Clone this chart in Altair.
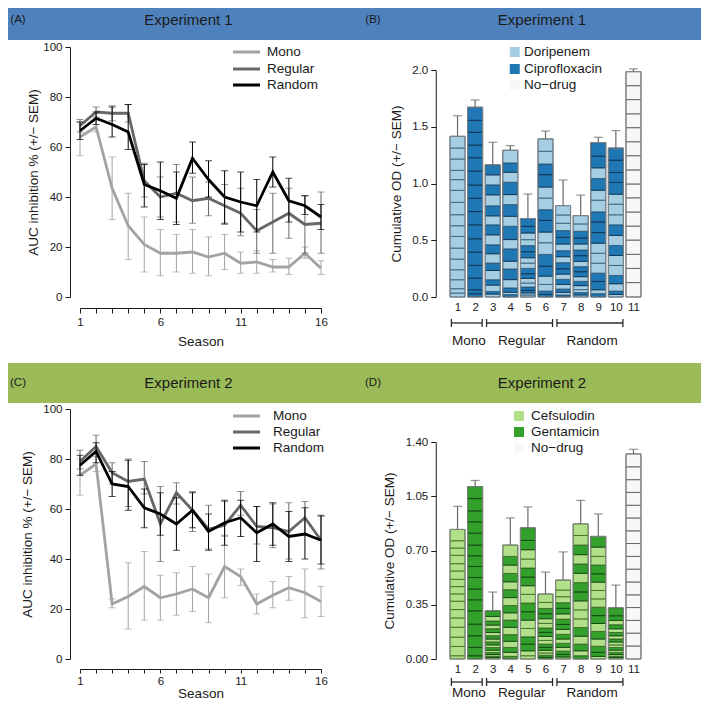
import altair as alt
import pandas as pd

FONT = "Liberation Sans"
INK = "#1a1a1a"

# ---------------- shared categories ----------------
seasons = list(range(1, 17))
series_names = ["Mono", "Regular", "Random"]
series_colors = ["#a3a3a3", "#676767", "#000000"]
bar_ids = list(range(1, 12))
group_names = ["Mono", "Regular", "Random"]
group_first = [1, 3, 7]
group_last = [2, 6, 10]

# ---------------- Experiment 1 : AUC inhibition (%) ----------------
e1_mono_mean = [64, 68, 43.5, 28.5, 21, 17.5, 17.5, 18, 16, 17.5, 13.5, 14, 12, 12, 17.5, 11.5]
e1_mono_lo = [56.5, 66, 31, 15, 10, 8.5, 10, 9.5, 8.5, 11, 9.5, 9.5, 10, 9, 15.5, 9]
e1_mono_hi = [70, 70.5, 56, 41.5, 32, 27, 25, 27, 24, 25, 18, 18.5, 15, 15.5, 20, 14.5]
e1_reg_mean = [68.5, 74, 73.5, 73.5, 46.5, 40, 41.5, 38.5, 39.5, 36.5, 33.5, 26.5, 30, 33.5, 29, 29.5]
e1_reg_lo = [66, 72, 70.5, 70, 40, 32, 30, 29.5, 32.5, 29, 24.5, 17.5, 17.5, 23.5, 17.5, 17.5]
e1_reg_hi = [71, 76, 76.5, 77, 53.5, 48, 53, 48, 46, 45, 43.5, 35, 41.5, 43.5, 40.5, 42]
e1_rnd_mean = [66.5, 71.5, 69, 66, 45, 42.5, 39.5, 55.5, 47, 40, 38, 36.5, 50, 38.5, 36.5, 32]
e1_rnd_lo = [63, 69, 64, 59, 36, 31, 29, 49.5, 40, 29.5, 26, 26, 44, 30, 33, 27]
e1_rnd_hi = [70, 74, 76, 77, 53, 54, 50, 62, 54.5, 50.5, 50, 47, 56, 47.5, 40.5, 37]

# ---------------- Experiment 2 : AUC inhibition (%) ----------------
e2_mono_mean = [73.5, 78, 22, 25, 29, 24.5, 26, 28, 24.5, 37, 33, 22, 25.5, 28.5, 26.5, 23]
e2_mono_lo = [65.5, 75, 20.5, 12, 15.5, 15.5, 17.5, 19, 14.5, 24.5, 29.5, 18, 20.5, 23.5, 16.5, 17]
e2_mono_hi = [80, 81, 24, 38.5, 43, 33.5, 34.5, 37, 34, 49, 36, 26, 31, 33, 36, 29]
e2_reg_mean = [79, 85, 74.5, 71, 72, 54, 66.5, 59.5, 52, 53.5, 61.5, 53, 52.5, 51, 56.5, 47.5]
e2_reg_lo = [76, 82, 70, 61, 66, 39, 62, 51, 44, 49.5, 57.5, 46, 44.5, 40, 50, 36]
e2_reg_hi = [83.5, 89.5, 78.5, 80, 79, 69, 70.5, 67, 61.5, 63, 67, 61, 62, 62.5, 63, 57]
e2_rnd_mean = [77.5, 83, 70, 69, 60.5, 58, 54, 59.5, 51, 54.5, 56.5, 50.5, 54, 49, 50, 47.5]
e2_rnd_lo = [73.5, 78.5, 65, 59.5, 52.5, 49.5, 43.5, 52.5, 43.5, 45.5, 49, 39, 45.5, 39, 40, 38]
e2_rnd_hi = [81.5, 86.5, 75, 79.5, 68, 66.5, 64.5, 66.5, 58, 63.5, 63.5, 61, 62.5, 59, 60.5, 57.5]

# ---------------- Experiment 1 : cumulative OD per season ----------------
e1_drugs = ["Doripenem", "Ciprofloxacin", "No\u2212drug"]
e1_fills = ["#a6cee3", "#1f78b4", "#f7f7f7"]
e1_edges = ["#35607f", "#0c3150", "#5e5e5e"]
# drug given each season (season 1 first): A = first drug, B = second drug, N = none
e1_schedule = [
    "AAAAAAAAAAAAAAAA", "BBBBBBBBBBBBBBBB",
    "ABABABABABABABAB", "BABABABABABABABA", "AABBAABBAABBAABB", "BBAABBAABBAABBAA",
    "BABABABBABABBAAA", "ABAABABBABBABBAA", "BABBAAABBBAABABB", "ABABAABABAAABBBB",
    "NNNNNNNNNNNNNNNN",
]
e1_od_bar1 = [0.035, 0.038, 0.079, 0.088, 0.094, 0.097, 0.103, 0.094, 0.097, 0.109, 0.106, 0.094, 0.082, 0.100, 0.097, 0.103]
e1_od_bar2 = [0.029, 0.035, 0.103, 0.112, 0.117, 0.117, 0.123, 0.117, 0.117, 0.117, 0.123, 0.117, 0.112, 0.112, 0.106, 0.115]
e1_od_bar3 = [0.026, 0.023, 0.056, 0.047, 0.082, 0.065, 0.082, 0.079, 0.088, 0.088, 0.079, 0.088, 0.097, 0.088, 0.088, 0.088]
e1_od_bar4 = [0.021, 0.021, 0.038, 0.073, 0.094, 0.068, 0.109, 0.082, 0.117, 0.088, 0.103, 0.088, 0.109, 0.088, 0.082, 0.112]
e1_od_bar5 = [0.018, 0.018, 0.023, 0.029, 0.035, 0.041, 0.041, 0.047, 0.047, 0.047, 0.053, 0.053, 0.053, 0.059, 0.059, 0.068]
e1_od_bar6 = [0.023, 0.029, 0.059, 0.073, 0.088, 0.103, 0.103, 0.094, 0.103, 0.094, 0.103, 0.097, 0.109, 0.094, 0.112, 0.109]
e1_od_bar7 = [0.018, 0.023, 0.029, 0.041, 0.044, 0.047, 0.047, 0.053, 0.053, 0.053, 0.059, 0.059, 0.059, 0.065, 0.073, 0.082]
e1_od_bar8 = [0.018, 0.021, 0.026, 0.035, 0.038, 0.041, 0.044, 0.044, 0.047, 0.050, 0.050, 0.053, 0.053, 0.059, 0.065, 0.073]
e1_od_bar9 = [0.029, 0.035, 0.073, 0.073, 0.088, 0.088, 0.088, 0.094, 0.094, 0.088, 0.103, 0.088, 0.103, 0.094, 0.103, 0.120]
e1_od_bar10 = [0.023, 0.029, 0.065, 0.073, 0.088, 0.088, 0.088, 0.088, 0.094, 0.088, 0.094, 0.088, 0.103, 0.088, 0.109, 0.106]
e1_od_bar11 = [0.127, 0.125, 0.124, 0.126, 0.123, 0.124, 0.125, 0.122, 0.124, 0.125, 0.123, 0.124, 0.122, 0.125, 0.123, 0.123]
e1_err_top = [1.597, 1.736, 1.363, 1.334, 0.907, 1.462, 1.031, 0.898, 1.407, 1.466, 2.010]

# ---------------- Experiment 2 : cumulative OD per season ----------------
e2_drugs = ["Cefsulodin", "Gentamicin", "No\u2212drug"]
e2_fills = ["#b2df8a", "#33a02c", "#f7f7f7"]
e2_edges = ["#3f6e25", "#0f4411", "#5e5e5e"]
e2_schedule = [
    "AAAAAAAAAAAAAAAA", "BBBBBBBBBBBBBBBB",
    "ABABABABABABABAB", "BABABABABABABABA", "AABBAABBAABBAABB", "BBAABBAABBAABBAA",
    "ABBABABABBABBAAA", "BABABAAABBABABAA", "ABBABABBAAABBAAB", "ABABABAABABABABB",
    "NNNNNNNNNNNNNNNN",
]
e2_od_bar1 = [0.021, 0.060, 0.060, 0.064, 0.060, 0.054, 0.054, 0.047, 0.047, 0.047, 0.054, 0.047, 0.054, 0.047, 0.047, 0.073]
e2_od_bar2 = [0.021, 0.054, 0.075, 0.075, 0.086, 0.071, 0.069, 0.075, 0.071, 0.069, 0.069, 0.077, 0.073, 0.071, 0.079, 0.077]
e2_od_bar3 = [0.009, 0.009, 0.011, 0.013, 0.015, 0.017, 0.017, 0.019, 0.019, 0.021, 0.021, 0.024, 0.024, 0.026, 0.030, 0.036]
e2_od_bar4 = [0.017, 0.026, 0.032, 0.039, 0.043, 0.047, 0.047, 0.047, 0.047, 0.051, 0.051, 0.051, 0.054, 0.054, 0.056, 0.073]
e2_od_bar5 = [0.021, 0.032, 0.043, 0.047, 0.054, 0.054, 0.054, 0.056, 0.056, 0.056, 0.056, 0.058, 0.058, 0.060, 0.060, 0.081]
e2_od_bar6 = [0.011, 0.013, 0.015, 0.017, 0.019, 0.021, 0.024, 0.026, 0.026, 0.028, 0.030, 0.030, 0.032, 0.034, 0.039, 0.054]
e2_od_bar7 = [0.013, 0.017, 0.021, 0.024, 0.026, 0.028, 0.030, 0.032, 0.032, 0.034, 0.034, 0.036, 0.036, 0.039, 0.043, 0.064]
e2_od_bar8 = [0.021, 0.032, 0.043, 0.051, 0.056, 0.056, 0.058, 0.058, 0.058, 0.060, 0.060, 0.060, 0.060, 0.062, 0.062, 0.075]
e2_od_bar9 = [0.017, 0.026, 0.039, 0.047, 0.049, 0.051, 0.051, 0.054, 0.054, 0.054, 0.054, 0.054, 0.056, 0.056, 0.060, 0.069]
e2_od_bar10 = [0.009, 0.009, 0.011, 0.013, 0.015, 0.017, 0.017, 0.019, 0.019, 0.021, 0.021, 0.024, 0.026, 0.028, 0.030, 0.051]
e2_od_bar11 = [0.084, 0.083, 0.082, 0.083, 0.082, 0.083, 0.083, 0.082, 0.083, 0.082, 0.083, 0.082, 0.083, 0.082, 0.083, 0.083]
e2_err_top = [0.985, 1.152, 0.432, 0.910, 0.981, 0.561, 0.691, 1.023, 0.936, 0.477, 1.353]

# ---------------- headers ----------------
hdr_letters = ["(A)", "(B)", "(C)", "(D)"]
hdr_titles = ["Experiment 1", "Experiment 1", "Experiment 2", "Experiment 2"]
band_blue = "#4f81bd"
band_green = "#9bbb59"

e1_segments = [e1_od_bar1, e1_od_bar2, e1_od_bar3, e1_od_bar4, e1_od_bar5, e1_od_bar6,
               e1_od_bar7, e1_od_bar8, e1_od_bar9, e1_od_bar10, e1_od_bar11]
e2_segments = [e2_od_bar1, e2_od_bar2, e2_od_bar3, e2_od_bar4, e2_od_bar5, e2_od_bar6,
               e2_od_bar7, e2_od_bar8, e2_od_bar9, e2_od_bar10, e2_od_bar11]


def line_frame(means, los, his):
    rows = []
    for name, m, l, h in zip(series_names, means, los, his):
        for s, a, b, c in zip(seasons, m, l, h):
            rows.append(dict(series=name, season=s, mean=a, lo=b, hi=c))
    return pd.DataFrame(rows)


def seg_frame(schedule, segments, drugs):
    code = {"A": drugs[0], "B": drugs[1], "N": drugs[2]}
    rows = []
    for b, (sched, segs) in zip(bar_ids, zip(schedule, segments)):
        for s, (c, v) in zip(seasons, zip(sched, segs)):
            rows.append(dict(bar=b, season=s, drug=code[c], od=v))
    return pd.DataFrame(rows)


def err_frame(segments, tops):
    return pd.DataFrame({"bar": bar_ids, "total": [round(sum(s), 3) for s in segments], "err": tops})


def header(letter, title, color, x0, x1, y0, y1, letter_x, title_x, text_y):
    hdf = pd.DataFrame({"letter": [letter], "title": [title]})
    base = alt.Chart(hdf)
    band = base.mark_rect(color=color).encode(
        x=alt.value(x0), x2=alt.value(x1), y=alt.value(y0), y2=alt.value(y1))
    lt = base.mark_text(fontSize=11.5, color=INK, align="center", baseline="middle").encode(
        x=alt.value(letter_x), y=alt.value(text_y), text="letter:N")
    tt = base.mark_text(fontSize=15, color=INK, align="center", baseline="middle").encode(
        x=alt.value(title_x), y=alt.value(text_y), text="title:N")
    return [band, lt, tt]


def line_panel(df, hdr, leg_y, leg_text_x, ytitle_x, x_offset, tick_size, label_pad, xtitle_y):
    xs = alt.Scale(domain=[1, 16], nice=False, zero=False)
    ys = alt.Scale(domain=[0, 100], nice=False, zero=True)
    color = alt.Color("series:N", scale=alt.Scale(domain=series_names, range=series_colors), legend=None)
    x_axis = alt.Axis(values=seasons, labelExpr="(datum.value - 1) % 5 == 0 ? datum.label : ''",
                      offset=x_offset, tickSize=tick_size, labelPadding=label_pad, grid=False,
                      title="Season", titleY=xtitle_y, titleBaseline="middle")
    y_axis = alt.Axis(values=[0, 20, 40, 60, 80, 100], offset=10, tickSize=5, labelPadding=3,
                      grid=False, title="AUC inhibition % (+/\u2212 SEM)", titleX=ytitle_x, titleY=125,
                      titleAngle=270, titleBaseline="middle", titleAlign="center")
    xe = alt.X("season:Q", scale=xs, axis=x_axis)
    layers = []
    for i, name in enumerate(series_names):
        sub = alt.Chart(df).transform_filter(alt.datum.series == name)
        layers.append(sub.mark_rule(strokeWidth=1).encode(
            x=xe, y=alt.Y("lo:Q", scale=ys, axis=y_axis), y2="hi:Q", color=color))
        layers.append(sub.mark_tick(orient="horizontal", size=7, thickness=1).encode(
            x=xe, y=alt.Y("lo:Q", scale=ys, axis=y_axis), color=color))
        layers.append(sub.mark_tick(orient="horizontal", size=7, thickness=1).encode(
            x=xe, y=alt.Y("hi:Q", scale=ys, axis=y_axis), color=color))
        layers.append(sub.mark_line(strokeWidth=2.8).encode(
            x=xe, y=alt.Y("mean:Q", scale=ys, axis=y_axis), color=color))
    leg_df = pd.DataFrame({"series": series_names, "idx": [0, 1, 2]})
    for i in range(3):
        sub = alt.Chart(leg_df).transform_filter(alt.datum.idx == i)
        layers.append(sub.mark_rule(strokeWidth=3).encode(
            x=alt.value(153), x2=alt.value(180), y=alt.value(leg_y[i]), color=color))
        layers.append(sub.mark_text(align="left", baseline="middle", fontSize=13.5, color=INK).encode(
            x=alt.value(leg_text_x), y=alt.value(leg_y[i]), text="series:N"))
    layers += hdr
    return alt.layer(*layers).properties(width=241, height=250)


def bar_panel(seg_df, err_df, hdr, drugs, fills, edges, y_domain, y_range, y_values, y_fmt,
              ytitle_x, leg_x, leg_text_x, leg_y, br_y, br_lbl_y):
    xs = alt.Scale(domain=[0.5, 11.5], nice=False, zero=False)
    ys = alt.Scale(domain=y_domain, range=y_range, nice=False, zero=True)
    fill = alt.Color("drug:N", scale=alt.Scale(domain=drugs, range=fills), legend=None)
    x_axis = alt.Axis(values=bar_ids, domain=False, ticks=False, labelPadding=4.5, grid=False, title=None)
    y_axis = alt.Axis(values=y_values, format=y_fmt, offset=8, tickSize=5, labelPadding=3, grid=False,
                      title="Cumulative OD (+/\u2212 SEM)", titleX=ytitle_x,
                      titleY=(y_range[0] + y_range[1]) / 2, titleAngle=270,
                      titleBaseline="middle", titleAlign="center")
    layers = []
    layers.append(alt.Chart(seg_df).mark_bar(size=15, strokeWidth=0.9).encode(
        x=alt.X("bar:Q", scale=xs, axis=x_axis),
        y=alt.Y("od:Q", stack="zero", scale=ys, axis=y_axis),
        color=fill,
        stroke=alt.Stroke("drug:N", scale=alt.Scale(domain=drugs, range=edges), legend=None),
        order=alt.Order("season:Q", sort="ascending"),
    ))
    eb = alt.Chart(err_df)
    xb = alt.X("bar:Q", scale=xs, axis=x_axis)
    layers.append(eb.mark_bar(size=15, filled=False, color="#858585", strokeWidth=1).encode(
        x=xb, y=alt.Y("total:Q", scale=ys, axis=y_axis)))
    layers.append(eb.mark_rule(color="#6a6a6a", strokeWidth=1.2).encode(
        x=xb, y=alt.Y("total:Q", scale=ys, axis=y_axis), y2="err:Q"))
    layers.append(eb.mark_tick(orient="horizontal", size=9, thickness=1.2, color="#6a6a6a").encode(
        x=xb, y=alt.Y("err:Q", scale=ys, axis=y_axis)))
    gdf = pd.DataFrame({"group": group_names, "g0": group_first, "g1": group_last})
    gb = alt.Chart(gdf).transform_calculate(
        x0="datum.g0 - 0.35", x1="datum.g1 + 0.4", xm="(datum.g0 + datum.g1) / 2 + 0.15")
    layers.append(gb.mark_rule(color="#2a2a2a", strokeWidth=1.3).encode(
        x=alt.X("x0:Q", scale=xs, axis=x_axis), x2="x1:Q", y=alt.value(br_y)))
    layers.append(gb.mark_rule(color="#2a2a2a", strokeWidth=1.3).encode(
        x=alt.X("x0:Q", scale=xs, axis=x_axis), y=alt.value(br_y - 4), y2=alt.value(br_y + 4)))
    layers.append(gb.mark_rule(color="#2a2a2a", strokeWidth=1.3).encode(
        x=alt.X("x1:Q", scale=xs, axis=x_axis), y=alt.value(br_y - 4), y2=alt.value(br_y + 4)))
    layers.append(gb.mark_text(fontSize=13.5, color=INK, align="center", baseline="middle").encode(
        x=alt.X("xm:Q", scale=xs, axis=x_axis), y=alt.value(br_lbl_y), text="group:N"))
    ldf = pd.DataFrame({"drug": drugs, "idx": [0, 1, 2]})
    for i in range(3):
        sub = alt.Chart(ldf).transform_filter(alt.datum.idx == i)
        layers.append(sub.mark_square(size=100, opacity=1).encode(
            x=alt.value(leg_x), y=alt.value(leg_y[i]), color=fill))
        layers.append(sub.mark_text(align="left", baseline="middle", fontSize=13.5, color=INK).encode(
            x=alt.value(leg_text_x), y=alt.value(leg_y[i]), text="drug:N"))
    layers += hdr
    return alt.layer(*layers).properties(width=203.5, height=250)


panel_a = line_panel(
    line_frame([e1_mono_mean, e1_reg_mean, e1_rnd_mean], [e1_mono_lo, e1_reg_lo, e1_rnd_lo],
               [e1_mono_hi, e1_reg_hi, e1_rnd_hi]),
    header(hdr_letters[0], hdr_titles[0], band_blue, -72, 272, -39, -7, -62, 108.5, -27),
    leg_y=[5, 22, 38], leg_text_x=187, ytitle_x=-37, x_offset=11, tick_size=5, label_pad=3, xtitle_y=33)

panel_b = bar_panel(
    seg_frame(e1_schedule, e1_segments, e1_drugs), err_frame(e1_segments, e1_err_top),
    header(hdr_letters[1], hdr_titles[1], band_blue, -91.75, 257.25, -39, -7, -70.75, 98.25, -27),
    e1_drugs, e1_fills, e1_edges, [0, 2.0], [250, 23], [0, 0.5, 1.0, 1.5, 2.0], ".1f",
    ytitle_x=-39, leg_x=71, leg_text_x=80.25, leg_y=[5, 22, 38], br_y=276, br_lbl_y=294)

panel_c = line_panel(
    line_frame([e2_mono_mean, e2_reg_mean, e2_rnd_mean], [e2_mono_lo, e2_reg_lo, e2_rnd_lo],
               [e2_mono_hi, e2_reg_hi, e2_rnd_hi]),
    header(hdr_letters[2], hdr_titles[2], band_green, -72, 272, -46, -6, -62, 108.5, -26),
    leg_y=[7, 23, 39], leg_text_x=193, ytitle_x=-43, x_offset=10, tick_size=4, label_pad=2, xtitle_y=24)

panel_d = bar_panel(
    seg_frame(e2_schedule, e2_segments, e2_drugs), err_frame(e2_segments, e2_err_top),
    header(hdr_letters[3], hdr_titles[3], band_green, -91.75, 257.25, -46, -6, -70.75, 98.25, -26),
    e2_drugs, e2_fills, e2_edges, [0, 1.4], [250, 33], [0, 0.35, 0.70, 1.05, 1.40], ".2f",
    ytitle_x=-46, leg_x=75.25, leg_text_x=87.25, leg_y=[7, 23, 39], br_y=273, br_lbl_y=284)

chart = (
    alt.concat(panel_a, panel_b, panel_c, panel_d, columns=2,
               spacing=alt.RowColnumber(row=112, column=122.75), bounds="flush")
    .resolve_scale(color="independent", stroke="independent")
    .properties(padding=0)
    .configure(font=FONT)
    .configure_view(strokeWidth=0)
    .configure_axis(
        labelFont=FONT, labelFontSize=11.5, labelColor=INK, labelFlush=False,
        titleFont=FONT, titleFontSize=13.5, titleFontWeight="normal", titleColor=INK,
        domainColor=INK, tickColor=INK, domainWidth=1, tickWidth=1,
    )
)

chart.save("out.html", embed_options={"renderer": "svg", "actions": False})
